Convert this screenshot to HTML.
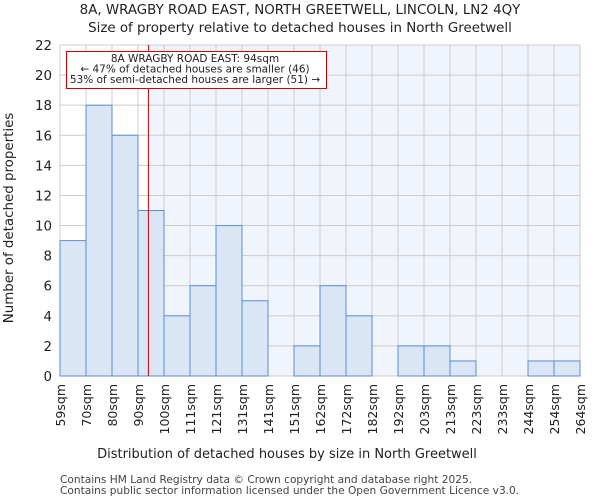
<!DOCTYPE html>
<html><head><meta charset="utf-8"><style>
body{margin:0;background:#fff;font-family:"DejaVu Sans","Liberation Sans",sans-serif}
</style></head><body>
<svg width="600" height="500" xmlns="http://www.w3.org/2000/svg" font-family="DejaVu Sans, Liberation Sans, sans-serif">
<text x="300" y="14" text-anchor="middle" font-size="13.4" fill="#222">8A, WRAGBY ROAD EAST, NORTH GREETWELL, LINCOLN, LN2 4QY</text>
<text x="300" y="32" text-anchor="middle" font-size="13.4" fill="#222">Size of property relative to detached houses in North Greetwell</text>
<g id="plot"></g>
<text x="287" y="458" text-anchor="middle" font-size="13" fill="#222">Distribution of detached houses by size in North Greetwell</text>
<text transform="translate(13,218) rotate(-90)" text-anchor="middle" font-size="13.4" fill="#222">Number of detached properties</text>
<text x="60" y="483" font-size="10.6" fill="#444">Contains HM Land Registry data © Crown copyright and database right 2025.</text>
<text x="60" y="494" font-size="10.6" fill="#444">Contains public sector information licensed under the Open Government Licence v3.0.</text>
</svg>
<script>
const tickLabels=["59sqm","70sqm","80sqm","90sqm","100sqm","111sqm","121sqm","131sqm","141sqm","151sqm","162sqm","172sqm","182sqm","192sqm","203sqm","213sqm","223sqm","233sqm","244sqm","254sqm","264sqm"];
const counts=[9,18,16,11,4,6,10,5,0,2,6,4,0,2,2,1,0,0,1,1];
const yTicks=[0,2,4,6,8,10,12,14,16,18,20,22];
const markerBin=3.4;
const X0=60,X1=580,Y0=376,Y1=45,YMAX=22;
const n=counts.length,bw=(X1-X0)/n;
const xs=i=>X0+i*bw, ys=v=>Y0-(v/YMAX)*(Y0-Y1);
const NS="http://www.w3.org/2000/svg",g=document.getElementById('plot');
function mk(t,a){const e=document.createElementNS(NS,t);for(const k in a)e.setAttribute(k,a[k]);g.appendChild(e);return e;}
const mx=xs(markerBin);
let e=mk('rect',{x:mx,y:Y1,width:X1-mx,height:Y0-Y1,fill:'#f0f4fc'});

yTicks.forEach(v=>{let l=mk('line',{x1:X0,x2:X1,y1:ys(v),y2:ys(v),stroke:'#ccc','stroke-width':1});

let t=mk('text',{x:X0-8,y:ys(v)+5,'text-anchor':'end','font-size':13.4,fill:'#222'});t.textContent=v;
});
tickLabels.forEach((s,i)=>{let l=mk('line',{x1:xs(i),x2:xs(i),y1:Y1,y2:Y0,stroke:'#ccc','stroke-width':1});

let t=mk('text',{transform:`translate(${xs(i)+5},${Y0+8}) rotate(-90)`,'text-anchor':'end','font-size':12.5,fill:'#222'});t.textContent=s;
});
counts.forEach((v,i)=>{if(!v)return;let r=mk('rect',{x:xs(i),y:ys(v),width:bw,height:Y0-ys(v),fill:'#dae5f5',stroke:'#5b8fd6','stroke-width':1});
});
e=mk('line',{x1:mx,x2:mx,y1:Y1,y2:Y0,stroke:'#cc0000','stroke-width':1});

e=mk('rect',{x:66.5,y:51.5,width:260,height:37,fill:'#fff',stroke:'#cc0000','stroke-width':1});

["8A WRAGBY ROAD EAST: 94sqm","← 47% of detached houses are smaller (46)","53% of semi-detached houses are larger (51) →"].forEach((s,i)=>{
let t=mk('text',{x:195,y:62+i*10.5,'text-anchor':'middle','font-size':10.5,fill:'#222'});t.textContent=s;
});
</script>
</body></html>
